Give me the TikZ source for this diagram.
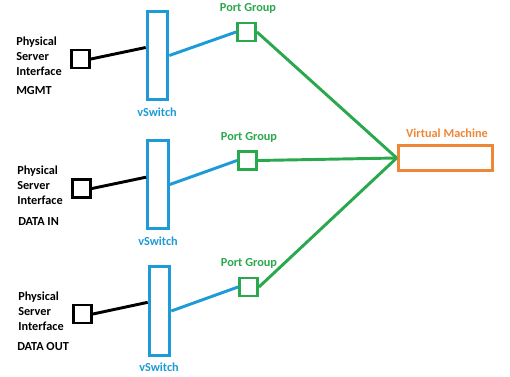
\documentclass[tikz,border=0pt]{standalone}
\usepackage{fontspec}
\setmainfont{Carlito}
\usetikzlibrary{positioning}
\definecolor{swblue}{HTML}{1E9AD6}
\definecolor{pggreen}{HTML}{2AA84E}
\definecolor{vmorange}{HTML}{EE8636}

\tikzset{
  phys/.style={draw=black,line width=2.2pt,minimum size=13.5pt,inner sep=0pt},
  vsw/.style={draw=swblue,line width=2.2pt,minimum width=15.5pt,minimum height=66.5pt,inner sep=0pt},
  pgbox/.style={draw=pggreen,line width=2.2pt,minimum size=13.5pt,inner sep=0pt},
  vmbox/.style={draw=vmorange,line width=2.2pt,minimum width=71pt,minimum height=19pt,inner sep=0pt},
  txt/.style={font=\bfseries\fontsize{9.2}{11.2}\selectfont,inner sep=0pt,align=left,anchor=west},
  swlbl/.style={txt,anchor=center,text=swblue},
  pglbl/.style={txt,anchor=center,text=pggreen},
  vmlbl/.style={txt,anchor=center,text=vmorange},
}

\begin{document}
\begin{tikzpicture}[x=0.75pt,y=-0.75pt]
  \useasboundingbox (0,0) rectangle (510,377);
  % physical interfaces
  \node[phys] (phys1) at (80.5,59) {};
  \node[phys] (phys2) at (81.5,188.5) {};
  \node[phys] (phys3) at (82.5,314) {};
  \node[txt] (name1) at (16,56) {Physical\\Server\\Interface};
  \node[txt] (name2) at (17,185) {Physical\\Server\\Interface};
  \node[txt] (name3) at (18,311.5) {Physical\\Server\\Interface};
  \node[txt] (role1) at (16,91) {MGMT};
  \node[txt] (role2) at (18,222) {DATA IN};
  \node[txt] (role3) at (17,347) {DATA OUT};
  % vSwitches
  \node[vsw] (vsw1) at (157.5,55.5) {};
  \node[vsw] (vsw2) at (158,184.5) {};
  \node[vsw] (vsw3) at (159.5,311) {};
  \node[swlbl] (swname1) at (157,112) {vSwitch};
  \node[swlbl] (swname2) at (158,241) {vSwitch};
  \node[swlbl] (swname3) at (159,367) {vSwitch};
  % port groups
  \node[pgbox] (pg1) at (246.5,32) {};
  \node[pgbox] (pg2) at (247.5,160.5) {};
  \node[pgbox] (pg3) at (248.5,287) {};
  \node[pglbl] (pgname1) at (248,8) {Port Group};
  \node[pglbl] (pgname2) at (249,137) {Port Group};
  \node[pglbl] (pgname3) at (249,263) {Port Group};
  % virtual machine
  \node[vmbox] (vm) at (445.5,158) {};
  \node[vmlbl] (vmname) at (447,133) {Virtual Machine};
  % links
  \draw[black,line width=2.2pt] (phys1.east) -- ([yshift=6pt]vsw1.west);
  \draw[black,line width=2.2pt] (phys2.east) -- ([yshift=5.5pt]vsw2.west);
  \draw[black,line width=2.2pt] (phys3.east) -- ([yshift=6.5pt]vsw3.west);
  \draw[swblue,line width=2.2pt] (vsw1.east) -- (pg1.west);
  \draw[swblue,line width=2.2pt] (vsw2.east) -- (pg2.west);
  \draw[swblue,line width=2.2pt] (vsw3.east) -- (pg3.west);
  \draw[pggreen,line width=2.2pt] (pg1.east) -- (vm.west);
  \draw[pggreen,line width=2.2pt] (pg2.east) -- (vm.west);
  \draw[pggreen,line width=2.2pt] (pg3.east) -- (vm.west);
\end{tikzpicture}
\end{document}
